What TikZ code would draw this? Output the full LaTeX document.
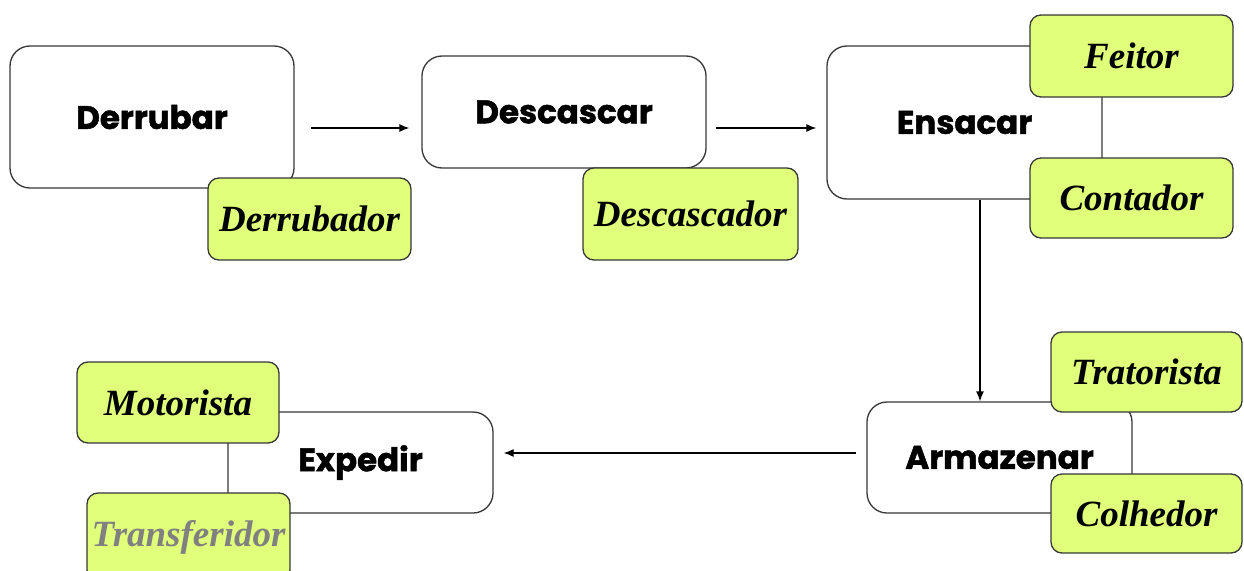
\documentclass[tikz,border=0pt]{standalone}
\usepackage{fontspec}
\setsansfont{Poppins}[BoldFeatures={FakeBold=1.5}]
\newfontfamily\rolefamily{Liberation Serif}
\usepackage{xcolor}
\usetikzlibrary{arrows,arrows.meta,shapes,positioning}
\definecolor{roleGreen}{RGB}{224,255,122}
\definecolor{edgeGray}{RGB}{55,55,55}
\newcommand\rolefont{\rolefamily\bfseries\itshape\fontsize{37}{42}\selectfont}
\tikzset{
  all/.style  = {align=center, inner sep=0pt},
  basic/.style  = {all, draw=edgeGray, line width=1.3pt, rectangle},
  activity/.style = {basic, rounded corners=20pt, fill=white, font=\sffamily\bfseries\fontsize{32.5}{38}\selectfont},
  worker/.style = {basic, rounded corners=11pt, fill=roleGreen, font=\rolefont},
  flow/.style = {-{Latex[length=10pt,width=8pt]}, line width=1.3pt, black}
}
\begin{document}
\begin{tikzpicture}[x=1pt,y=-1pt]
\useasboundingbox (0,0) rectangle (1244,570);
\clip (0,0) rectangle (1244,570);
% activities, white boxes
\node[activity, minimum width=284pt, minimum height=142pt] (derrubar) at (152,117) {Derrubar};
\node[activity, minimum width=284pt, minimum height=112pt] (descascar) at (564,112) {Descascar};
\node[activity, minimum width=275pt, minimum height=153pt] (ensacar) at (964.5,122.5) {Ensacar};
\node[activity, minimum width=265pt, minimum height=111pt] (armazenar) at (999.5,457.5) {Armazenar};
\node[activity, minimum width=265pt, minimum height=101pt] (expedir) at (360.5,462.5) {Expedir};
% workers, green boxes on top
\node[worker, minimum width=203pt, minimum height=82pt] (derrubador) at (309.5,219) {Derrubador};
\node[worker, minimum width=215pt, minimum height=92pt] (descascador) at (690.5,214) {Descascador};
\node[worker, minimum width=203pt, minimum height=82pt] (feitor) at (1131.5,56) {Feitor};
\node[worker, minimum width=203pt, minimum height=80pt] (contador) at (1131.5,198) {Contador};
\node[worker, minimum width=191pt, minimum height=80pt] (tratorista) at (1146.5,372) {Tratorista};
\node[worker, minimum width=191pt, minimum height=79pt] (colhedor) at (1146.5,513.5) {Colhedor};
\node[worker, minimum width=202pt, minimum height=81pt] (motorista) at (178,402.5) {Motorista};
\node[worker, minimum width=203pt, minimum height=88pt, text=gray] (transferidor) at (188.5,537) {Transferidor};
% flow between activities
\draw[flow, shorten <=16pt, shorten >=12pt] ([yshift=-11pt]derrubar.east) -- ([yshift=-11pt]derrubar.east -| descascar.west);
\draw[flow, shorten <=9pt, shorten >=10pt] ([yshift=-16pt]descascar.east) -- ([yshift=-16pt]descascar.east -| ensacar.west);
\draw[flow] ([xshift=15.5pt]ensacar.south) -- ([xshift=15.5pt]ensacar.south |- armazenar.north);
\draw[flow, shorten <=10pt, shorten >=10pt] ([yshift=4.5pt]armazenar.west) -- ([yshift=4.5pt]armazenar.west -| expedir.east);
\end{tikzpicture}
\end{document}
